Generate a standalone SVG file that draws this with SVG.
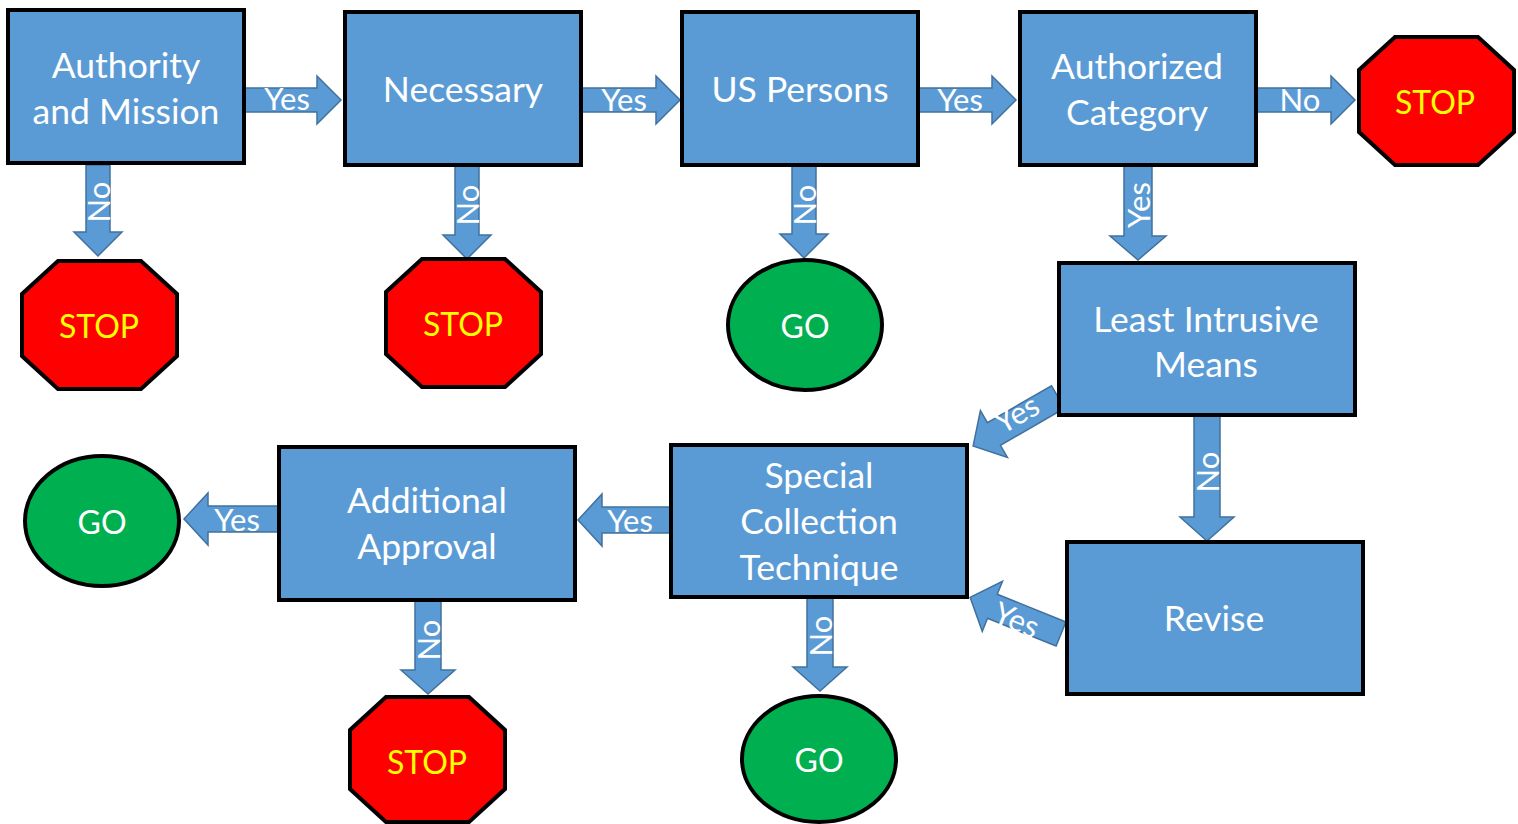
<svg xmlns="http://www.w3.org/2000/svg" width="1518" height="824" viewBox="0 0 1518 824">
<style>
.box{fill:#5b9bd5;stroke:#000;stroke-width:4}
.arr{fill:#5b9bd5;stroke:#41719c;stroke-width:1.5}
.stop{fill:#ff0000;stroke:#000;stroke-width:4}
.go{fill:#00b050;stroke:#000;stroke-width:4}
text{font-family:Lato,"Open Sans",sans-serif;text-anchor:middle;dominant-baseline:central}
.bt{fill:#fff;font-size:35.5px}
.at{fill:#fff;font-size:31px}
.st{fill:#ffff00;font-size:32px}
.gt{fill:#fff;font-size:32px}
</style>
<rect width="1518" height="824" fill="#fff"/>
<g id="connectors">
<path class="arr" transform="translate(245,100)" d="M0,-12H72V-24L96,0L72,24V12H0Z"/>
<text class="at" x="287" y="98">Yes</text>
<path class="arr" transform="translate(582,100)" d="M0,-12H74V-24L98,0L74,24V12H0Z"/>
<text class="at" x="624" y="99">Yes</text>
<path class="arr" transform="translate(919,100)" d="M0,-12H73V-24L97,0L73,24V12H0Z"/>
<text class="at" x="960" y="99">Yes</text>
<path class="arr" transform="translate(1257,100)" d="M0,-12H74V-24L98,0L74,24V12H0Z"/>
<text class="at" x="1300" y="99">No</text>
<path class="arr" transform="translate(98,165) rotate(90)" d="M0,-12H67V-24L91,0L67,24V12H0Z"/>
<text class="at" transform="translate(98,202) rotate(-90)">No</text>
<path class="arr" transform="translate(467,166) rotate(90)" d="M0,-12H69V-24L93,0L69,24V12H0Z"/>
<text class="at" transform="translate(467,205) rotate(-90)">No</text>
<path class="arr" transform="translate(804,166) rotate(90)" d="M0,-12H68V-24L92,0L68,24V12H0Z"/>
<text class="at" transform="translate(804,205) rotate(-90)">No</text>
<path class="arr" transform="translate(1138,166) rotate(90)" d="M0,-14H70V-28L94,0L70,28V14H0Z"/>
<text class="at" transform="translate(1138,205) rotate(-90)">Yes</text>
<path class="arr" transform="translate(1207,416) rotate(90)" d="M0,-13H101V-27L125,0L101,27V13H0Z"/>
<text class="at" transform="translate(1207,472) rotate(-90)">No</text>
<path class="arr" transform="translate(428,601) rotate(90)" d="M0,-13H69V-27L93,0L69,27V13H0Z"/>
<text class="at" transform="translate(428,640) rotate(-90)">No</text>
<path class="arr" transform="translate(820,598) rotate(90)" d="M0,-13H69V-27L93,0L69,27V13H0Z"/>
<text class="at" transform="translate(820,636) rotate(-90)">No</text>
<path class="arr" transform="translate(671,520) rotate(180)" d="M0,-13H69V-26L93,0L69,26V13H0Z"/>
<text class="at" x="630" y="520">Yes</text>
<path class="arr" transform="translate(279,519) rotate(180)" d="M0,-13H71V-26L95,0L71,26V13H0Z"/>
<text class="at" x="237" y="519">Yes</text>
<path class="arr" transform="translate(1058,397) rotate(150)" d="M0,-13H74V-27L98,0L74,27V13H0Z"/>
<text class="at" transform="translate(1016,413) rotate(-30)">Yes</text>
<path class="arr" transform="translate(1061,634) rotate(202)" d="M0,-13H74V-27L98,0L74,27V13H0Z"/>
<text class="at" transform="translate(1017,619) rotate(22)">Yes</text>
</g>
<g id="n-authority"><rect class="box" x="8" y="10" width="236" height="153"/><text class="bt" x="126" y="64">Authority</text><text class="bt" x="126" y="110">and Mission</text></g>
<g id="n-necessary"><rect class="box" x="345" y="12" width="236" height="153"/><text class="bt" x="463" y="88">Necessary</text></g>
<g id="n-uspersons"><rect class="box" x="682" y="12" width="236" height="153"/><text class="bt" x="800" y="88">US Persons</text></g>
<g id="n-authcat"><rect class="box" x="1020" y="12" width="236" height="153"/><text class="bt" x="1137" y="65">Authorized</text><text class="bt" x="1137" y="111">Category</text></g>
<g id="n-lim"><rect class="box" x="1059" y="263" width="296" height="152"/><text class="bt" x="1206" y="318">Least Intrusive</text><text class="bt" x="1206" y="363">Means</text></g>
<g id="n-revise"><rect class="box" x="1067" y="542" width="296" height="152"/><text class="bt" x="1214" y="617">Revise</text></g>
<g id="n-sct"><rect class="box" x="671" y="445" width="296" height="152"/><text class="bt" x="819" y="474">Special</text><text class="bt" x="819" y="520">Collection</text><text class="bt" x="819" y="566">Technique</text></g>
<g id="n-addl"><rect class="box" x="279" y="447" width="296" height="153"/><text class="bt" x="427" y="499">Additional</text><text class="bt" x="427" y="545">Approval</text></g>
<g id="n-stop1"><polygon class="stop" points="58,261 141,261 177,294 177,356 141,389 58,389 22,356 22,294"/><text class="st" x="99" y="325">STOP</text></g>
<g id="n-stop2"><polygon class="stop" points="422,259 505,259 541,292 541,354 505,387 422,387 386,354 386,292"/><text class="st" x="463" y="323">STOP</text></g>
<g id="n-stop3"><polygon class="stop" points="1395,37 1478,37 1514,70 1514,132 1478,165 1395,165 1359,132 1359,70"/><text class="st" x="1435" y="101">STOP</text></g>
<g id="n-stop4"><polygon class="stop" points="386,697 469,697 505,730 505,789 469,822 386,822 350,789 350,730"/><text class="st" x="427" y="761">STOP</text></g>
<g id="n-go1"><ellipse class="go" cx="805" cy="325" rx="77" ry="65"/><text class="gt" x="805" y="325">GO</text></g>
<g id="n-go2"><ellipse class="go" cx="102" cy="521" rx="77" ry="65"/><text class="gt" x="102" y="521">GO</text></g>
<g id="n-go3"><ellipse class="go" cx="819" cy="759" rx="77" ry="63"/><text class="gt" x="819" y="759">GO</text></g>
</svg>
